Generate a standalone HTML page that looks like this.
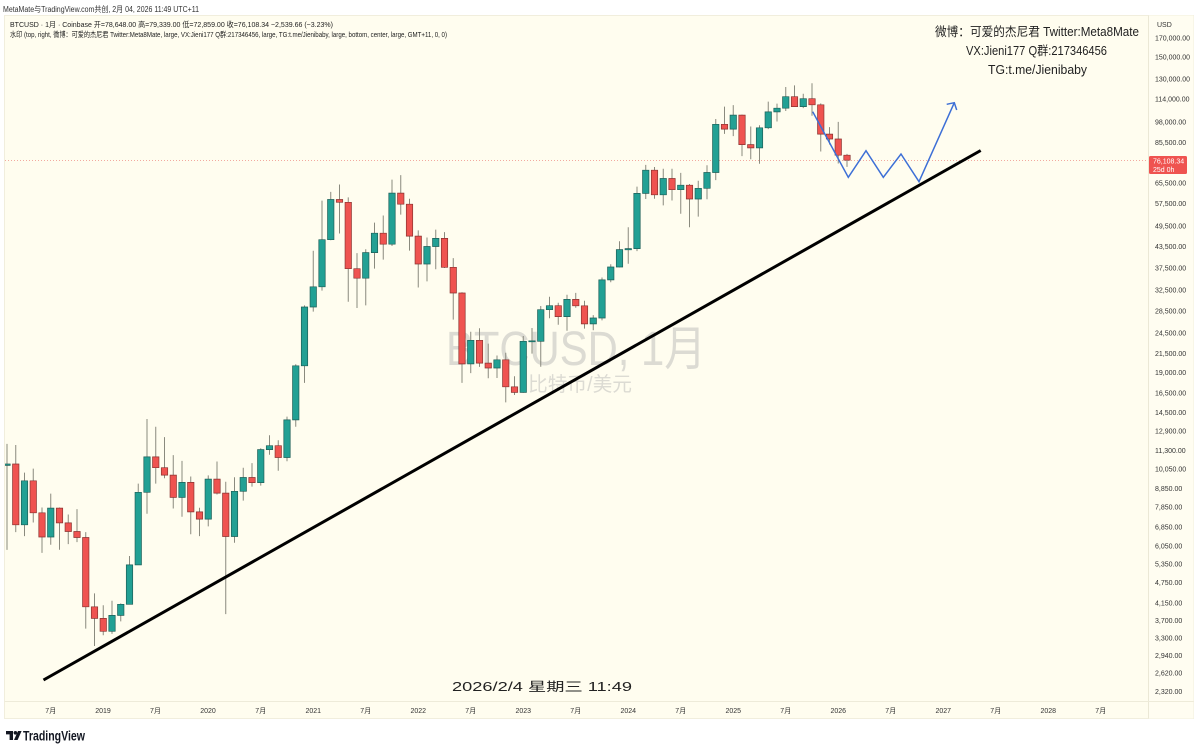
<!DOCTYPE html>
<html><head><meta charset="utf-8">
<style>
html,body{margin:0;padding:0;background:#ffffff;}
svg{display:block;}
text{font-family:"Liberation Sans","Noto Sans CJK SC",sans-serif;}
</style></head>
<body>
<svg width="1200" height="753" viewBox="0 0 1200 753" xmlns="http://www.w3.org/2000/svg">
<defs>
<clipPath id="pane"><rect x="5" y="15.5" width="1143" height="686"/></clipPath>
</defs>
<rect x="0" y="0" width="1200" height="753" fill="#ffffff"/>
<text x="3" y="12" font-size="8" fill="#333" textLength="196" lengthAdjust="spacingAndGlyphs">MetaMate与TradingView.com共创, 2月 04, 2026 11:49 UTC+11</text>
<rect x="4.5" y="15.5" width="1189" height="703" fill="#fffdef" stroke="#f1eedd" stroke-width="1"/>
<rect x="1148.5" y="15.5" width="45" height="703" fill="#fffdf1"/>
<line x1="1148.5" y1="15.5" x2="1148.5" y2="718.5" stroke="#ebe8d6" stroke-width="1"/>
<line x1="4.5" y1="701.5" x2="1193.5" y2="701.5" stroke="#eeebd9" stroke-width="1"/>
<text x="10" y="27" font-size="7.5" fill="#222" textLength="323" lengthAdjust="spacingAndGlyphs">BTCUSD · 1月 · Coinbase  开=78,648.00  高=79,339.00  低=72,859.00  收=76,108.34  −2,539.66 (−3.23%)</text>
<text x="10" y="37" font-size="7.5" fill="#222" textLength="437" lengthAdjust="spacingAndGlyphs">水印 (top, right, 微博：可爱的杰尼君 Twitter:Meta8Mate, large, VX:Jieni177 Q群:217346456, large, TG:t.me/Jienibaby, large, bottom, center, large, GMT+11, 0, 0)</text>
<text x="446" y="365" font-size="48" fill="#dcdbd3" textLength="260" lengthAdjust="spacingAndGlyphs">BTCUSD, 1月</text>
<text x="528" y="391" font-size="20" fill="#dcdbd3" textLength="104" lengthAdjust="spacingAndGlyphs">比特币/美元</text>
<text x="935" y="36" font-size="12.5" fill="#222" textLength="204" lengthAdjust="spacingAndGlyphs">微博：可爱的杰尼君 Twitter:Meta8Mate</text>
<text x="966" y="55" font-size="12.5" fill="#222" textLength="141" lengthAdjust="spacingAndGlyphs">VX:Jieni177 Q群:217346456</text>
<text x="988" y="74" font-size="12.5" fill="#222" textLength="99" lengthAdjust="spacingAndGlyphs">TG:t.me/Jienibaby</text>
<text x="452" y="691" font-size="12.5" fill="#222" textLength="180" lengthAdjust="spacingAndGlyphs">2026/2/4 星期三 11:49</text>
<line x1="5" y1="160.5" x2="1148" y2="160.5" stroke="#f2a99f" stroke-width="1" stroke-dasharray="1,2"/>
<g clip-path="url(#pane)">
<path fill="none" stroke="#8a8a7e" stroke-width="1" d="M7 443.9V549.9M15.75 445V532.1M24.5 472.6V536.1M33.25 468.6V522.5M42 507.5V552.9M50.75 493.6V544.8M59.5 507.5V549.7M68.25 514.5V544.1M77 509.1V542.1M85.75 532.1V628.6M94.5 593.4V646M103.25 605.2V635.2M112 600.8V633.9M120.75 603.4V621.4M129.5 556V604.5M138.25 483.6V564.9M147 419V513.7M155.75 426.7V483.6M164.5 437.1V478.3M173.25 455.1V508.5M182 460.9V516.8M190.75 476.5V534.2M199.5 507.7V536.1M208.25 475.4V526.4M217 461.5V494.5M225.75 481.7V614.1M234.5 477.2V542.8M243.25 467.7V500.6M252 463.1V486.6M260.75 448.3V485.6M269.5 435.2V454.7M278.25 440.3V470.7M287 416.6V461.2M295.75 364.2V426.7M304.5 305.4V382.9M313.25 250.8V311.6M322 200.6V290.6M330.75 191.9V240.3M339.5 184.5V233.5M348.25 197.4V301.8M357 253.1V308M365.75 249.2V305.4M374.5 222.6V268.6M383.25 215.5V259.6M392 179.6V246M400.75 175.1V214.6M409.5 198.7V250.6M418.25 230.4V287.5M427 237.5V281.4M435.75 229.6V269.3M444.5 232.1V268M453.25 258.1V319.6M462 292.2V382.9M470.75 331.7V373.1M479.5 328.3V366.9M488.25 343.6V378.2M497 355.5V378M505.75 352.7V402.4M514.5 376.2V395M523.25 336V392.7M532 328V353.6M540.75 306V366.8M549.5 296.8V318.2M558.25 302.7V324.7M567 294.7V330.8M575.75 292.9V307.7M584.5 300.8V328.6M593.25 315.1V330.2M602 277.5V320.4M610.75 264.2V282.3M619.5 241.2V267.4M628.25 227.3V263.7M637 186.6V251.1M645.75 164.9V199M654.5 167V198.7M663.25 168.8V205.4M672 168.7V200.5M680.75 172.9V213.8M689.5 184V227.2M698.25 180.8V216.6M707 165.3V199.2M715.75 119V180.1M724.5 106.6V133.9M733.25 105.1V136.1M742 114.6V156.1M750.75 126.5V159.3M759.5 125.3V163.7M768.25 101.6V129.1M777 103.6V121.5M785.75 87V111M794.5 85.4V107M803.25 93.7V108.1M812 83.3V115.7M820.75 103.4V151.5M829.5 127.1V144.5M838.25 121.9V163.5M847 153.9V166.9"/>
<path fill="#22a094" stroke="#1d5f58" stroke-width="0.7" d="M3.8 464h6.4V465.4h-6.4ZM21.3 480.8h6.4V524.8h-6.4ZM47.55 508.1h6.4V537h-6.4ZM108.8 615.4h6.4V631.3h-6.4ZM117.55 604.3h6.4V615.4h-6.4ZM126.3 564.9h6.4V604.3h-6.4ZM135.05 492.3h6.4V564.9h-6.4ZM143.8 456.9h6.4V492.3h-6.4ZM178.8 482.4h6.4V497.4h-6.4ZM205.05 479.1h6.4V519.1h-6.4ZM231.3 491.3h6.4V536.5h-6.4ZM240.05 477.5h6.4V491.3h-6.4ZM257.55 449.6h6.4V482.6h-6.4ZM266.3 445.7h6.4V449.6h-6.4ZM283.8 419.9h6.4V457.5h-6.4ZM292.55 365.8h6.4V419.9h-6.4ZM301.3 307h6.4V365.8h-6.4ZM310.05 286.8h6.4V307h-6.4ZM318.8 239.7h6.4V286.8h-6.4ZM327.55 199.5h6.4V239.7h-6.4ZM362.55 252.6h6.4V278.2h-6.4ZM371.3 233.2h6.4V252.6h-6.4ZM388.8 193.1h6.4V244.2h-6.4ZM423.8 246.5h6.4V264h-6.4ZM432.55 238.4h6.4V246.5h-6.4ZM467.55 340.3h6.4V363.9h-6.4ZM493.8 359.8h6.4V368h-6.4ZM520.05 341.3h6.4V392.4h-6.4ZM528.8 340.8h6.4V341.8h-6.4ZM537.55 309.7h6.4V341.3h-6.4ZM546.3 305.7h6.4V309.7h-6.4ZM563.8 299.4h6.4V316.6h-6.4ZM590.05 318h6.4V323.9h-6.4ZM598.8 279.9h6.4V318h-6.4ZM607.55 267h6.4V279.9h-6.4ZM616.3 249.6h6.4V267h-6.4ZM625.05 248.6h6.4V249.8h-6.4ZM633.8 193.4h6.4V248.6h-6.4ZM642.55 170.2h6.4V193.4h-6.4ZM660.05 178.5h6.4V194.8h-6.4ZM677.55 185.2h6.4V189.7h-6.4ZM695.05 188.3h6.4V199h-6.4ZM703.8 172.5h6.4V188.3h-6.4ZM712.55 124.3h6.4V172.5h-6.4ZM730.05 115.1h6.4V129.1h-6.4ZM756.3 127.8h6.4V147.9h-6.4ZM765.05 111.9h6.4V127.8h-6.4ZM773.8 108.2h6.4V111.9h-6.4ZM782.55 96.7h6.4V108.2h-6.4ZM800.05 98.7h6.4V106.6h-6.4Z"/>
<path fill="#ef5350" stroke="#8a3330" stroke-width="0.7" d="M12.55 464h6.4V524.8h-6.4ZM30.05 480.8h6.4V512.8h-6.4ZM38.8 512.8h6.4V537h-6.4ZM56.3 508.1h6.4V522.9h-6.4ZM65.05 522.9h6.4V531.5h-6.4ZM73.8 531.5h6.4V537.5h-6.4ZM82.55 537.5h6.4V606.8h-6.4ZM91.3 606.8h6.4V618.4h-6.4ZM100.05 618.4h6.4V631.3h-6.4ZM152.55 456.9h6.4V467.7h-6.4ZM161.3 467.7h6.4V475.1h-6.4ZM170.05 475.1h6.4V497.4h-6.4ZM187.55 482.4h6.4V511.9h-6.4ZM196.3 511.9h6.4V519.1h-6.4ZM213.8 479.1h6.4V493.1h-6.4ZM222.55 493.1h6.4V536.5h-6.4ZM248.8 477.5h6.4V482.6h-6.4ZM275.05 445.7h6.4V457.5h-6.4ZM336.3 199.5h6.4V202.3h-6.4ZM345.05 202.3h6.4V268.7h-6.4ZM353.8 268.7h6.4V278.2h-6.4ZM380.05 233.2h6.4V244.2h-6.4ZM397.55 193.1h6.4V204.2h-6.4ZM406.3 204.2h6.4V236.1h-6.4ZM415.05 236.1h6.4V264h-6.4ZM441.3 238.4h6.4V267.3h-6.4ZM450.05 267.3h6.4V293h-6.4ZM458.8 293h6.4V363.9h-6.4ZM476.3 340.3h6.4V363.1h-6.4ZM485.05 363.1h6.4V368h-6.4ZM502.55 359.8h6.4V386.8h-6.4ZM511.3 386.8h6.4V392.4h-6.4ZM555.05 305.7h6.4V316.6h-6.4ZM572.55 299.4h6.4V305.8h-6.4ZM581.3 305.8h6.4V323.9h-6.4ZM651.3 170.2h6.4V194.8h-6.4ZM668.8 178.5h6.4V189.7h-6.4ZM686.3 185.2h6.4V199h-6.4ZM721.3 124.3h6.4V129.1h-6.4ZM738.8 115.1h6.4V144.6h-6.4ZM747.55 144.6h6.4V147.9h-6.4ZM791.3 96.7h6.4V106.6h-6.4ZM808.8 98.7h6.4V104.8h-6.4ZM817.55 104.8h6.4V134.1h-6.4ZM826.3 134.1h6.4V139h-6.4ZM835.05 139h6.4V155.2h-6.4ZM843.8 155.2h6.4V160.2h-6.4Z"/>
</g>
<line x1="43.5" y1="680" x2="980.7" y2="150.5" stroke="#000" stroke-width="3"/>
<polyline points="812.7,111.7 848.3,177.3 866,150.7 883.3,177.3 901,154 919,181.7 954.3,102.7" fill="none" stroke="#3d6fd6" stroke-width="1.5"/>
<polyline points="946.7,104.3 954.3,102.7 956.7,110" fill="none" stroke="#3d6fd6" stroke-width="1.5"/>
<g font-size="7" fill="#333">
<text x="1157" y="27">USD</text>
<text x="1155" y="40.5">170,000.00</text>
<text x="1155" y="59.5">150,000.00</text>
<text x="1155" y="81.3">130,000.00</text>
<text x="1155" y="101.3">114,000.00</text>
<text x="1155" y="124.3">98,000.00</text>
<text x="1155" y="145">85,500.00</text>
<text x="1155" y="185.6">65,500.00</text>
<text x="1155" y="205.8">57,500.00</text>
<text x="1155" y="228.4">49,500.00</text>
<text x="1155" y="249">43,500.00</text>
<text x="1155" y="270.6">37,500.00</text>
<text x="1155" y="292.4">32,500.00</text>
<text x="1155" y="313.4">28,500.00</text>
<text x="1155" y="335.4">24,500.00</text>
<text x="1155" y="355.8">21,500.00</text>
<text x="1155" y="374.8">19,000.00</text>
<text x="1155" y="395.6">16,500.00</text>
<text x="1155" y="415">14,500.00</text>
<text x="1155" y="433.6">12,900.00</text>
<text x="1155" y="453.2">11,300.00</text>
<text x="1155" y="471.5">10,050.00</text>
<text x="1155" y="491">8,850.00</text>
<text x="1155" y="509.4">7,850.00</text>
<text x="1155" y="529.4">6,850.00</text>
<text x="1155" y="548.4">6,050.00</text>
<text x="1155" y="566.6">5,350.00</text>
<text x="1155" y="584.8">4,750.00</text>
<text x="1155" y="605.6">4,150.00</text>
<text x="1155" y="623">3,700.00</text>
<text x="1155" y="640.6">3,300.00</text>
<text x="1155" y="658">2,940.00</text>
<text x="1155" y="675.6">2,620.00</text>
<text x="1155" y="694">2,320.00</text>
</g>
<rect x="1149" y="156" width="38" height="18" rx="1.5" fill="#ef5350"/>
<text x="1153" y="163.5" font-size="7" fill="#fff">76,108.34</text>
<text x="1153" y="172" font-size="7" fill="#fff">25d 0h</text>
<g font-size="7" fill="#333" text-anchor="middle">
<text x="50.75" y="713">7月</text>
<text x="103" y="713">2019</text>
<text x="155.5" y="713">7月</text>
<text x="208" y="713">2020</text>
<text x="260.75" y="713">7月</text>
<text x="313.25" y="713">2021</text>
<text x="365.75" y="713">7月</text>
<text x="418.25" y="713">2022</text>
<text x="470.75" y="713">7月</text>
<text x="523.25" y="713">2023</text>
<text x="575.75" y="713">7月</text>
<text x="628.25" y="713">2024</text>
<text x="680.75" y="713">7月</text>
<text x="733.25" y="713">2025</text>
<text x="785.75" y="713">7月</text>
<text x="838.25" y="713">2026</text>
<text x="890.75" y="713">7月</text>
<text x="943.25" y="713">2027</text>
<text x="995.75" y="713">7月</text>
<text x="1048.25" y="713">2028</text>
<text x="1100.75" y="713">7月</text>
</g>
<g fill="#131722">
<path d="M6,731 H13 V740 H9.6 V734.4 H6 Z"/>
<circle cx="15.4" cy="732.8" r="1.8"/>
<path d="M18,731 H21.6 L17.6,740 H14 Z"/>
</g>
<text x="23" y="740.5" font-size="14" font-weight="bold" fill="#131722" textLength="62" lengthAdjust="spacingAndGlyphs">TradingView</text>
</svg>
</body></html>
